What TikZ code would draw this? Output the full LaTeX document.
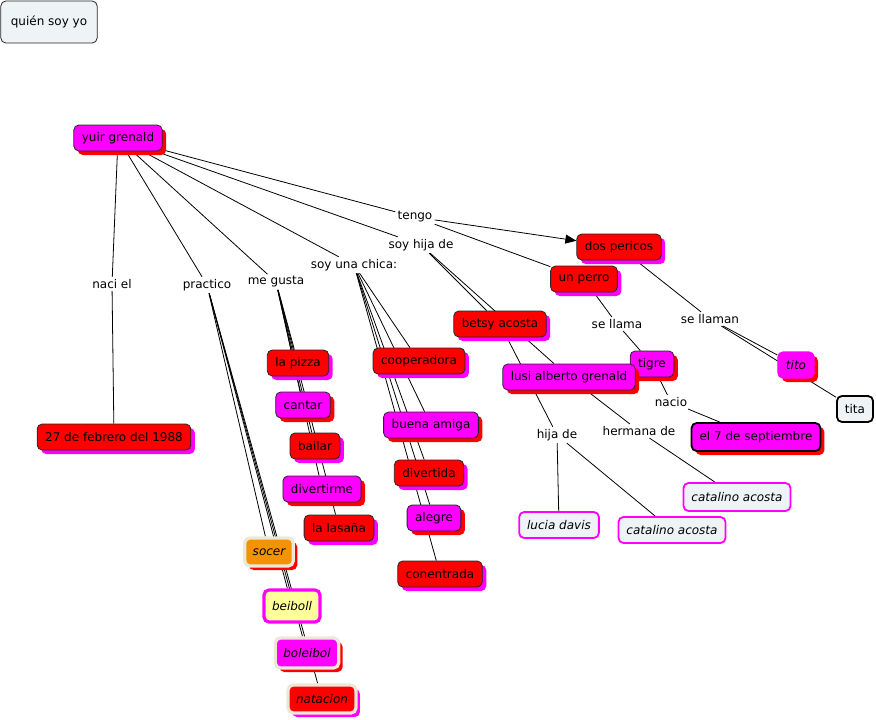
\documentclass[tikz,border=0pt]{standalone}
\usepackage{fontspec}
\setmainfont{DejaVu Sans}
\usetikzlibrary{shadows, backgrounds, arrows.meta}
\definecolor{cmapred}{RGB}{255,0,0}
\definecolor{cmappink}{RGB}{255,0,255}
\definecolor{cmapgray}{RGB}{238,243,245}
\definecolor{cmaporange}{RGB}{245,146,0}
\definecolor{cmapbeige}{RGB}{236,232,216}
\definecolor{cmapyellow}{RGB}{255,255,153}
\tikzset{
    x=1pt, y=-1pt, % pixel coordinates, y going down
    concept/.style={rounded corners=5pt, draw=black!85, inner xsep=8pt, minimum height=26pt, font=\fontsize{12}{14}\selectfont}, % every concept box
    redshadow/.style={drop shadow={shadow xshift=4pt, shadow yshift=-4pt, fill=cmapred, opacity=1}},
    pinkshadow/.style={drop shadow={shadow xshift=4pt, shadow yshift=-4pt, fill=cmappink, opacity=1}},
    rednode/.style={concept, fill=cmapred, pinkshadow},
    pinknode/.style={concept, fill=cmappink, redshadow},
    graynode/.style={concept, fill=cmapgray, draw=cmappink, line width=1.8pt, font=\fontsize{12}{14}\selectfont\itshape},
    sportnode/.style={concept, draw=cmapbeige, line width=3.2pt, font=\fontsize{12}{14}\selectfont\itshape},
    linkword/.style={inner sep=2pt, font=\fontsize{12}{14}\selectfont}, % words on the connectors
    every path/.append style={line width=0.8pt},
    }

\begin{document}
\begin{tikzpicture}
\useasboundingbox (0,0) rectangle (876,720);

\node[concept, fill=cmapgray, minimum height=42pt, inner xsep=10pt] (title) at (49,22) {quién soy yo};

\node[pinknode] (yuir) at (118,138) {yuir grenald};
\node[rednode] (febrero) at (114,437) {27 de febrero del 1988};

\node[rednode] (pericos) at (619,247) {dos pericos};
\node[rednode] (perro) at (584,279) {un perro};
\node[rednode] (betsy) at (500,324) {betsy acosta};
\node[pinknode] (tigre) at (652,364) {tigre};
\node[pinknode] (lusi) at (569,377) {lusi alberto grenald};
\node[pinknode, draw=cmappink, line width=1.2pt, font=\fontsize{12}{14}\selectfont\itshape] (tito) at (796,365) {tito};
\node[concept, fill=cmapgray, draw=black, line width=1.8pt] (tita) at (855,409) {tita};
\node[pinknode, draw=black, line width=1.8pt, minimum height=28pt] (septiembre) at (756,437) {el 7 de septiembre};
\node[graynode, minimum height=28pt] (catalinoa) at (737,497) {catalino acosta};
\node[graynode] (lucia) at (559,525) {lucia davis};
\node[graynode] (catalinob) at (672,530) {catalino acosta};

\node[rednode] (pizza) at (298,363) {la pizza};
\node[pinknode] (cantar) at (303,405) {cantar};
\node[rednode] (bailar) at (315,446) {bailar};
\node[pinknode] (divertirme) at (322,489) {divertirme};
\node[rednode] (lasana) at (339,528) {la lasaña};

\node[sportnode, fill=cmaporange, redshadow, minimum height=28pt] (socer) at (269,552) {socer};
\node[sportnode, fill=cmapyellow, draw=cmappink, minimum height=32pt] (beiboll) at (292,606) {beiboll};
\node[sportnode, fill=cmappink, redshadow, minimum height=30pt] (boleibol) at (307,653) {boleibol};
\node[sportnode, fill=cmapred, pinkshadow, minimum height=28pt] (natacion) at (322,699) {natacion};

\node[rednode] (cooperadora) at (419,361) {cooperadora};
\node[pinknode] (amiga) at (431,425) {buena amiga};
\node[rednode] (divertida) at (429,473) {divertida};
\node[pinknode] (alegre) at (434,518) {alegre};
\node[rednode] (conentrada) at (440,574) {conentrada};

% linking words
\node[linkword] (tengo) at (415,217) {tengo};
\node[linkword] (hija) at (421,245) {soy hija de};
\node[linkword] (chica) at (354,265) {soy una chica:};
\node[linkword] (naci) at (112,284) {naci el};
\node[linkword] (practico) at (207,285) {practico};
\node[linkword] (gusta) at (276,282) {me gusta};
\node[linkword] (llama) at (617,324) {se llama};
\node[linkword] (llaman) at (710,319) {se llaman};
\node[linkword] (nacio) at (671,402) {nacio};
\node[linkword] (hermana) at (639,431) {hermana de};
\node[linkword] (hijade) at (557,435) {hija de};

\begin{scope}[on background layer]
\draw (yuir) -- (naci) -- (febrero);
\draw (yuir) -- (practico);
\draw (yuir) -- (gusta);
\draw (yuir) -- (chica);
\draw (yuir) -- (hija);
\draw (yuir) -- (tengo);
\foreach \t in {socer, beiboll, boleibol, natacion}
    \draw (practico) -- (\t);
\foreach \t in {pizza, cantar, bailar, divertirme, lasana}
    \draw (gusta) -- (\t);
\foreach \t in {cooperadora, amiga, divertida, alegre, conentrada}
    \draw (chica) -- (\t);
\draw (hija) -- (betsy);
\draw (hija) -- (lusi);
\draw[-{Triangle[length=11pt, width=9pt]}] (tengo) -- (pericos);
\draw (tengo) -- (perro);
\draw (perro) -- (llama) -- (tigre);
\draw (pericos) -- (llaman);
\draw (llaman) -- (tito);
\draw (llaman) -- (tita);
\draw (tigre) -- (nacio) -- (septiembre);
\draw (betsy) -- (hijade);
\draw (hijade) -- (lucia);
\draw (hijade) -- (catalinob);
\draw (lusi) -- (hermana) -- (catalinoa);
\end{scope}

\end{tikzpicture}
\end{document}
